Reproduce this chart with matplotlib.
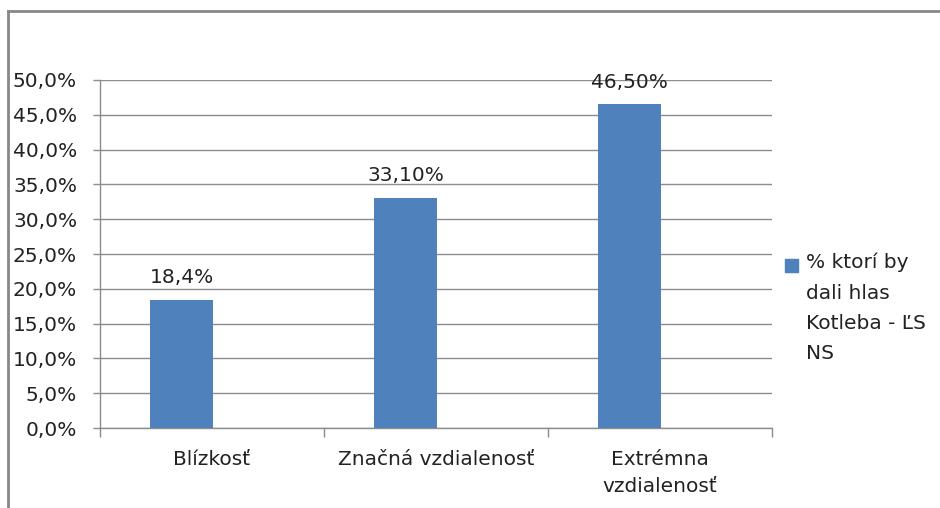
import matplotlib.pyplot as plt
from matplotlib.patches import Rectangle
from matplotlib.lines import Line2D

plt.rcParams['font.family'] = ['DejaVu Sans']

# data
categories = ["Blízkosť", "Značná vzdialenosť", "Extrémna\nvzdialenosť"]
values = [18.4, 33.1, 46.5]
value_labels = ["18,4%", "33,10%", "46,50%"]
y_ticks = [0, 5, 10, 15, 20, 25, 30, 35, 40, 45, 50]
y_tick_labels = [f"{t:.1f}%".replace(".", ",") for t in y_ticks]
legend_text = "% ktorí by\ndali hlas\nKotleba - ĽS\nNS"

bar_color = "#4F81BD"
grid_color = "#8C8C8C"
text_color = "#222222"
fs = 14.5

fig = plt.figure(figsize=(9.4, 5.08), dpi=100)
ax = fig.add_axes([100 / 940, 80 / 508, 672 / 940, 348 / 508])

# bars sit a bit left of the category centre, like in the original
pos = [i + 0.365 for i in range(len(values))]
ax.bar(pos, values, width=0.28, color=bar_color, zorder=3)

for x, v, lab in zip(pos, values, value_labels):
    ax.annotate(lab, (x, v), xytext=(0, 16), textcoords="offset points",
                ha="center", va="center", fontsize=fs, color=text_color)

ax.set_xlim(0, 3)
ax.set_ylim(0, 50)
ax.set_yticks(y_ticks)
ax.set_yticklabels(y_tick_labels)
ax.yaxis.grid(True, color=grid_color, linewidth=1.0)
ax.set_axisbelow(True)

ax.set_xticks([0.5, 1.5, 2.5])
ax.set_xticklabels(categories)
ax.set_xticks([0, 1, 2, 3], minor=True)
ax.tick_params(axis="x", which="major", length=0, pad=15.5, labelsize=fs, labelcolor=text_color)
ax.tick_params(axis="x", which="minor", length=6.5, width=1.0, color=grid_color)
ax.tick_params(axis="y", length=5, width=1.0, color=grid_color, pad=11.5,
               labelsize=fs, labelcolor=text_color)
for lab in ax.get_xticklabels():
    lab.set_linespacing(1.55)

for s in ["top", "right"]:
    ax.spines[s].set_visible(False)
for s in ["left", "bottom"]:
    ax.spines[s].set_color(grid_color)
    ax.spines[s].set_linewidth(1.0)

# legend drawn by hand so the marker lines up with the first line of text
fig.patches.append(Rectangle((785 / 940, 1 - 272 / 508), 13 / 940, 13 / 508,
                             transform=fig.transFigure, color=bar_color))
fig.text(806 / 940, 1 - 253 / 508, legend_text, ha="left", va="top",
         fontsize=fs, color=text_color, linespacing=1.74)

# outer chart frame (only top and left edges visible)
fig.add_artist(Line2D([8 / 940, 1], [1 - 11 / 508, 1 - 11 / 508],
                      transform=fig.transFigure, color="#888888", linewidth=2))
fig.add_artist(Line2D([8 / 940, 8 / 940], [0, 1 - 11 / 508],
                      transform=fig.transFigure, color="#888888", linewidth=2))

fig.savefig("out.png", dpi=100)
